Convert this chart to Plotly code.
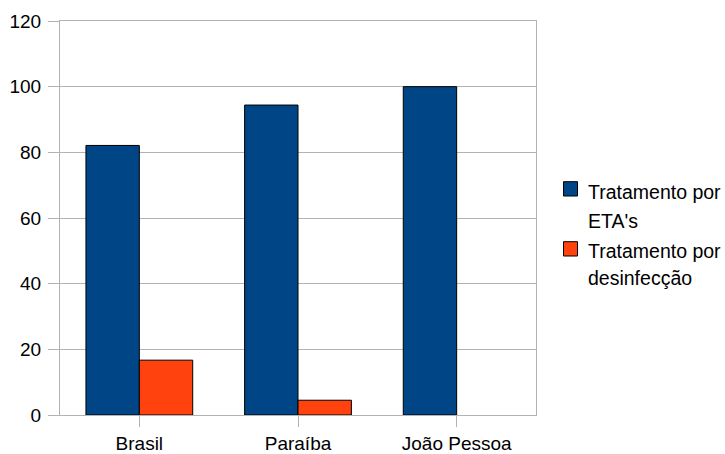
import plotly.graph_objects as go

categories = ["Brasil", "Paraíba", "João Pessoa"]
eta_values = [82.1, 94.4, 100.0]
desinf_values = [16.7, 4.5, 0.0]
series_names = ["Tratamento por ETA's", "Tratamento por desinfecção"]
series_colors = ["#004586", "#ff420e"]
y_ticks = [0, 20, 40, 60, 80, 100, 120]

W, H = 725, 454
ML, MR, MT, MB = 60, 189, 21, 39
PW, PH = W - ML - MR, H - MT - MB

FONT = "Liberation Sans, Arial, sans-serif"
GRID = "#b3b3b3"

fig = go.Figure()
for name, vals, col in zip(series_names, [eta_values, desinf_values], series_colors):
    fig.add_trace(go.Bar(
        x=categories, y=vals, name=name,
        marker=dict(color=col, line=dict(color="#000000",
                                         width=[1 if v > 0 else 0 for v in vals])),
        showlegend=False,
    ))

def px_x(px):
    return (px - ML) / PW

def px_y(py):
    return (H - MB - py) / PH

shapes = []
annotations = []
sq_tops = [181.7, 241.7]
line_centers = [[191.5, 221.0], [250.5, 277.5]]
for i, name in enumerate(series_names):
    top = sq_tops[i]
    shapes.append(dict(
        type="rect", xref="paper", yref="paper",
        x0=px_x(563.5), x1=px_x(577.5), y0=px_y(top + 14.3), y1=px_y(top),
        fillcolor=series_colors[i], line=dict(color="#000000", width=1),
    ))
    for txt, cy in zip(name.rsplit(" ", 1), line_centers[i]):
        annotations.append(dict(
            xref="paper", yref="paper", x=px_x(585.5), y=px_y(cy),
            xanchor="left", yanchor="middle", showarrow=False, text=txt,
            font=dict(family=FONT, size=19.5, color="#000000"),
        ))

fig.update_layout(
    width=W, height=H,
    margin=dict(l=ML, r=MR, t=MT, b=MB, pad=0, autoexpand=False),
    paper_bgcolor="white", plot_bgcolor="white",
    barmode="group", bargap=0.327, bargroupgap=0,
    font=dict(family=FONT, size=19, color="#000000"),
    shapes=shapes, annotations=annotations,
    showlegend=False,
)
fig.update_xaxes(
    automargin=False,
    showgrid=False, showline=True, mirror=True, linecolor=GRID, linewidth=1,
    ticks="outside", ticklen=11, tickcolor=GRID, tickwidth=1,
    tickfont=dict(family=FONT, size=19, color="#000000"),
)
fig.update_yaxes(
    automargin=False, ticklabelstandoff=3,
    range=[0, 120], tickvals=y_ticks, showgrid=True, gridcolor=GRID, gridwidth=1,
    zeroline=False, showline=True, mirror=True, linecolor=GRID, linewidth=1,
    ticks="outside", ticklen=11, tickcolor=GRID, tickwidth=1,
    tickfont=dict(family=FONT, size=19, color="#000000"),
)

fig.write_html("out.html", config={"displayModeBar": False},
               post_script="document.body.style.margin='0';document.body.style.overflow='hidden';")
